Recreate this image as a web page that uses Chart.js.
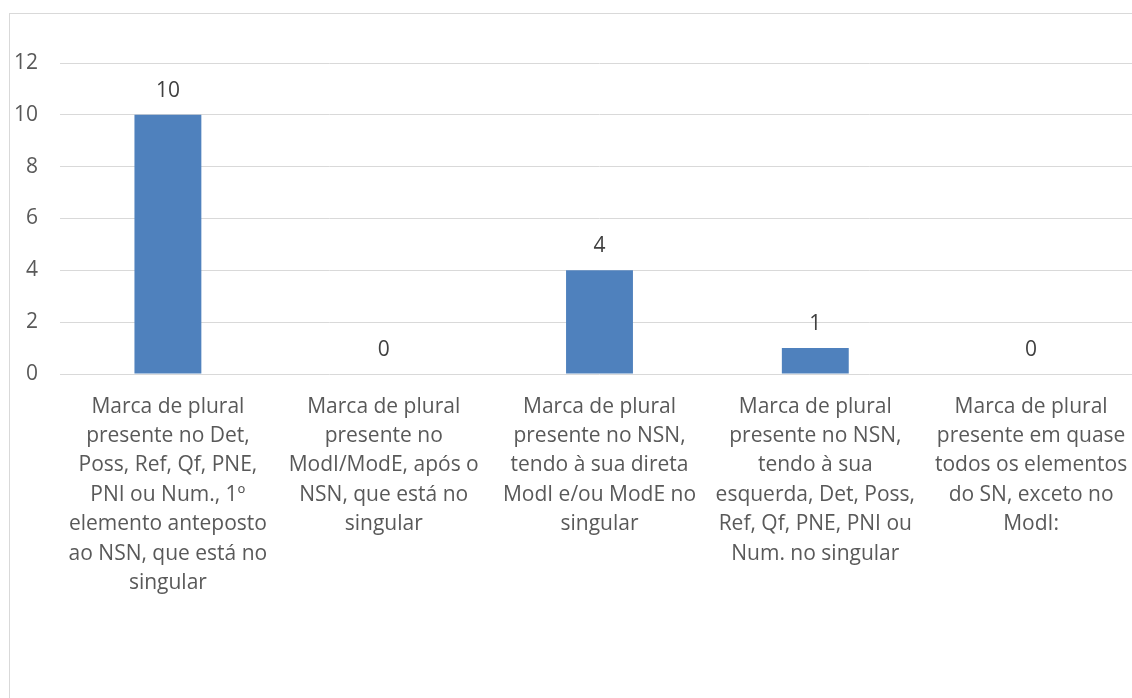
<!DOCTYPE html>
<html>
<head>
<meta charset="utf-8">
<script src="https://cdn.jsdelivr.net/npm/chart.js@4"></script>
<style>
html,body{margin:0;padding:0;background:#fff;overflow:hidden;width:1132px;height:698px;}
#frame{position:absolute;left:9px;top:13px;width:1200px;height:800px;border:1px solid #d9d9d9;box-sizing:border-box;}
#wrap{position:absolute;left:0;top:0;width:1160px;height:698px;}
</style>
</head>
<body>
<div id="frame"></div>
<div id="wrap"><canvas id="c" width="1160" height="698"></canvas></div>
<script>
const categories = [
  ["Marca de plural", "presente no Det,", "Poss, Ref, Qf, PNE,", "PNI ou Num., 1º", "elemento anteposto", "ao NSN, que está no", "singular"],
  ["Marca de plural", "presente no", "ModI/ModE, após o", "NSN, que está no", "singular"],
  ["Marca de plural", "presente no NSN,", "tendo à sua direta", "ModI e/ou ModE no", "singular"],
  ["Marca de plural", "presente no NSN,", "tendo à sua", "esquerda, Det, Poss,", "Ref, Qf, PNE, PNI ou", "Num. no singular"],
  ["Marca de plural", "presente em quase", "todos os elementos", "do SN, exceto no", "ModI:"]
];
const values = [10, 0, 4, 1, 0];
const yTicks = [0, 2, 4, 6, 8, 10, 12];

const FONT = "'Open Sans', 'DejaVu Sans', sans-serif";
const TEXT = '#595959';

const dataLabels = {
  id: 'dataLabels',
  afterDatasetsDraw(chart) {
    const ctx = chart.ctx;
    const meta = chart.getDatasetMeta(0);
    ctx.save();
    ctx.font = '21px ' + FONT;
    ctx.fillStyle = '#404040';
    ctx.textAlign = 'center';
    ctx.textBaseline = 'alphabetic';
    meta.data.forEach((bar, i) => {
      ctx.fillText(String(values[i]), bar.x, bar.y - 18);
    });
    ctx.restore();
  }
};

new Chart(document.getElementById('c'), {
  type: 'bar',
  data: {
    labels: categories,
    datasets: [{
      data: values,
      backgroundColor: '#4f81bd',
      borderWidth: 0,
      barPercentage: 0.31,
      categoryPercentage: 1
    }]
  },
  options: {
    responsive: false,
    animation: false,
    devicePixelRatio: 1,
    layout: { padding: { top: 63, left: 0, right: 21, bottom: 0 } },
    plugins: { legend: { display: false }, tooltip: { enabled: false } },
    scales: {
      x: {
        grid: { display: false, drawTicks: false },
        border: { display: false },
        ticks: {
          color: TEXT,
          font: { family: FONT, size: 21, lineHeight: 1.4 },
          padding: 18,
          maxRotation: 0,
          minRotation: 0,
          autoSkip: false
        },
        afterFit(scale) { scale.height = 698 - 374; }
      },
      y: {
        min: 0,
        max: 12,
        afterBuildTicks(scale) { scale.ticks = yTicks.map(v => ({ value: v })); },
        grid: { color: '#d9d9d9', lineWidth: 1, drawTicks: false },
        border: { display: false },
        ticks: {
          color: TEXT,
          font: { family: FONT, size: 21 },
          padding: 22
        },
        afterFit(scale) { scale.width = 60; }
      }
    }
  },
  plugins: [dataLabels]
});
</script>
</body>
</html>
